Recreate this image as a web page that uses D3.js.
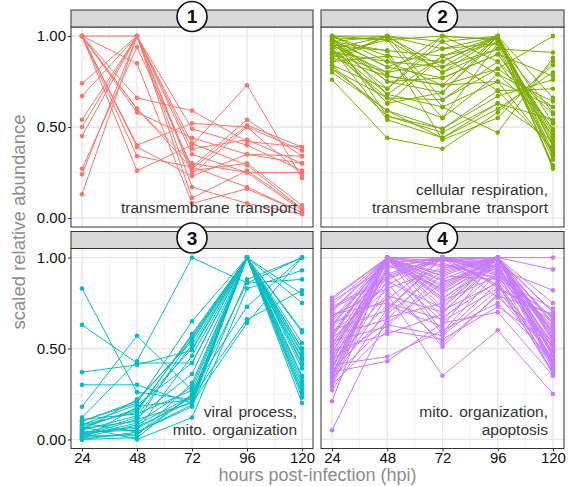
<!DOCTYPE html>
<html lang="en">

<head>
  <meta charset="UTF-8">
  <title>Cluster profiles</title>
  <script src="https://d3js.org/d3.v7.min.js"></script>
  <style>
    body { margin: 0; background: #fff; }
    text { font-family: "Liberation Sans", Arial, sans-serif; }
  </style>
</head>

<body>
  <div id="chart"></div>

  <script>

    // time points (hours post-infection)
    const hours = [24, 48, 72, 96, 120];
    const yTicks = [0, 0.5, 1];
    const yTickLabels = ['0.00', '0.50', '1.00'];

    const clusterIds = ['1', '2', '3', '4'];
    const clusterColors = ['#F8766D', '#7CAE00', '#00BFC4', '#C77CFF'];
    const clusterLabels = [
      ['transmembrane transport'],
      ['cellular respiration,', 'transmembrane transport'],
      ['viral process,', 'mito. organization'],
      ['mito. organization,', 'apoptosis']
    ];

    // scaled abundance per protein, values at 24/48/72/96/120 hpi
    const cluster1 = [
      [1.00, 0.60, 0.30, 0.25, 0.25],
      [1.00, 0.66, 0.59, 0.42, 0.39],
      [1.00, 0.58, 0.44, 0.35, 0.30],
      [1.00, 0.40, 0.52, 0.50, 0.37],
      [1.00, 0.34, 0.28, 0.54, 0.34],
      [1.00, 0.26, 0.40, 0.73, 0.22],
      [1.00, 0.85, 0.08, 0.16, 0.03],
      [0.74, 1.00, 0.11, 0.26, 0.05],
      [0.67, 1.00, 0.17, 0.08, 0.02],
      [0.54, 1.00, 0.26, 0.30, 0.07],
      [0.50, 1.00, 0.35, 0.25, 0.04],
      [0.45, 1.00, 0.49, 0.40, 0.26],
      [0.27, 0.94, 0.28, 0.17, 0.03],
      [0.24, 1.00, 0.38, 0.43, 0.30],
      [0.13, 1.00, 0.24, 0.50, 0.24],
      [1.00, 0.39, 0.23, 0.35, 0.34],
      [1.00, 1.00, 0.41, 0.29, 0.05],
      [1.00, 0.60, 0.27, 0.51, 0.39]
    ];

    const cluster2 = [
      [1.00, 1.00, 0.97, 1.00, 0.52],
      [0.99, 0.98, 1.00, 0.98, 0.46],
      [0.97, 1.00, 0.93, 1.00, 0.39],
      [0.95, 0.92, 0.89, 0.96, 0.58],
      [1.00, 0.89, 0.86, 1.00, 0.42],
      [0.93, 1.00, 0.80, 0.93, 0.35],
      [0.91, 0.86, 0.83, 1.00, 0.27],
      [0.98, 0.83, 0.77, 0.90, 0.49],
      [0.90, 0.80, 1.00, 0.86, 0.57],
      [0.88, 0.78, 0.73, 1.00, 0.66],
      [0.97, 0.75, 0.69, 0.98, 0.44],
      [0.86, 1.00, 0.65, 0.82, 0.61],
      [0.84, 0.71, 0.97, 0.79, 0.64],
      [0.99, 0.68, 0.61, 0.75, 0.37],
      [0.82, 0.66, 0.55, 0.96, 0.29],
      [0.95, 0.63, 0.89, 0.70, 0.71],
      [0.80, 0.59, 0.49, 0.67, 0.76],
      [1.00, 0.56, 0.47, 0.63, 0.54],
      [0.93, 0.54, 0.44, 0.60, 0.80],
      [0.76, 0.44, 0.38, 0.58, 0.84],
      [0.97, 0.92, 0.43, 0.55, 0.86],
      [0.90, 0.98, 0.61, 0.47, 0.88],
      [1.00, 0.86, 0.73, 0.82, 1.00],
      [0.88, 1.00, 0.83, 0.93, 0.91],
      [0.95, 0.80, 0.86, 1.00, 0.40],
      [0.99, 0.75, 0.77, 0.90, 0.78],
      [0.93, 0.63, 0.69, 1.00, 0.36],
      [0.86, 0.89, 0.55, 0.79, 0.52],
      [0.96, 0.71, 1.00, 0.98, 0.32],
      [0.91, 0.66, 0.65, 0.86, 0.45],
      [0.84, 0.56, 0.49, 0.70, 0.38],
      [1.00, 0.98, 0.80, 1.00, 0.34],
      [0.98, 0.83, 0.93, 0.96, 0.48],
      [0.82, 0.59, 0.44, 0.63, 0.42],
      [0.97, 0.78, 0.73, 0.75, 0.61],
      [0.93, 0.68, 0.89, 1.00, 0.28]
    ];

    const cluster3 = [
      [0.83, 0.26, 0.22, 1.00, 0.50],
      [0.63, 0.42, 0.42, 1.00, 0.35],
      [0.37, 0.41, 0.49, 1.00, 0.47],
      [0.30, 0.30, 0.20, 1.00, 0.42],
      [0.18, 0.57, 0.27, 1.00, 0.25],
      [0.12, 0.43, 1.00, 0.86, 0.88],
      [0.10, 0.20, 0.65, 1.00, 0.60],
      [0.08, 0.15, 0.58, 1.00, 0.53],
      [0.06, 0.10, 0.56, 1.00, 0.45],
      [0.05, 0.22, 0.54, 1.00, 0.39],
      [0.04, 0.05, 0.46, 1.00, 0.32],
      [0.03, 0.12, 0.36, 1.00, 0.28],
      [0.02, 0.02, 0.31, 1.00, 0.23],
      [0.01, 0.08, 0.24, 1.00, 0.20],
      [0.00, 0.18, 0.22, 1.00, 0.59],
      [0.09, 0.04, 0.18, 0.88, 1.00],
      [0.07, 0.00, 0.12, 0.83, 0.93],
      [0.11, 0.14, 0.27, 0.73, 1.00],
      [0.04, 0.06, 0.23, 0.66, 0.82],
      [0.02, 0.11, 0.20, 0.64, 1.00],
      [0.06, 0.17, 0.50, 1.00, 0.80],
      [0.01, 0.03, 0.24, 1.00, 0.75],
      [0.03, 0.07, 0.21, 1.00, 0.41],
      [0.00, 0.01, 0.25, 0.86, 1.00],
      [0.08, 0.19, 0.42, 1.00, 0.34],
      [0.05, 0.13, 0.52, 1.00, 0.48],
      [0.02, 0.09, 0.29, 1.00, 0.30],
      [0.10, 0.21, 0.55, 1.00, 0.50],
      [0.00, 0.04, 0.19, 1.00, 0.26],
      [0.07, 0.16, 0.57, 1.00, 0.44]
    ];

    const cluster4 = [
      [0.78, 1.00, 0.90, 1.00, 0.70],
      [0.76, 0.95, 1.00, 0.93, 0.62],
      [0.74, 1.00, 0.82, 1.00, 0.55],
      [0.72, 0.88, 1.00, 0.97, 0.66],
      [0.70, 1.00, 0.76, 0.90, 0.48],
      [0.68, 0.83, 0.94, 1.00, 0.59],
      [0.66, 1.00, 0.71, 0.86, 0.44],
      [0.64, 0.77, 1.00, 0.95, 0.52],
      [0.62, 1.00, 0.88, 1.00, 0.40],
      [0.61, 0.92, 0.65, 0.83, 0.68],
      [0.60, 0.71, 1.00, 1.00, 0.57],
      [0.58, 1.00, 0.59, 0.92, 0.36],
      [0.57, 0.66, 0.97, 0.88, 0.72],
      [0.56, 1.00, 0.85, 1.00, 0.50],
      [0.55, 0.86, 0.51, 0.80, 0.42],
      [0.54, 0.62, 0.91, 1.00, 0.63],
      [0.52, 1.00, 0.78, 0.96, 0.46],
      [0.50, 0.97, 1.00, 0.78, 0.54],
      [0.49, 0.58, 0.69, 1.00, 0.38],
      [0.48, 1.00, 0.96, 0.89, 0.60],
      [0.46, 0.80, 0.35, 0.60, 0.25],
      [0.45, 1.00, 0.73, 1.00, 0.47],
      [0.44, 0.90, 1.00, 0.84, 0.65],
      [0.43, 0.74, 0.62, 1.00, 0.41],
      [0.42, 1.00, 0.87, 0.94, 0.53],
      [0.41, 0.455, 0.60, 0.75, 0.44],
      [0.40, 0.94, 1.00, 0.99, 0.70],
      [0.39, 1.00, 0.67, 0.87, 0.39],
      [0.38, 0.69, 0.93, 1.00, 0.58],
      [0.37, 0.43, 0.64, 0.70, 0.35],
      [0.36, 1.00, 0.80, 1.00, 0.49],
      [0.35, 0.85, 1.00, 0.91, 0.61],
      [0.34, 0.63, 0.57, 0.82, 0.45],
      [0.33, 1.00, 0.95, 1.00, 0.56],
      [0.32, 0.79, 0.70, 0.97, 0.43],
      [0.31, 1.00, 1.00, 0.85, 0.37],
      [0.30, 0.60, 0.55, 0.73, 0.52],
      [0.29, 0.96, 0.83, 1.00, 0.64],
      [0.27, 0.72, 1.00, 0.95, 0.40],
      [0.21, 1.00, 0.90, 0.88, 0.51],
      [0.05, 0.67, 0.75, 1.00, 0.46],
      [0.77, 1.00, 1.00, 1.00, 1.00],
      [0.65, 0.98, 0.92, 1.00, 0.935],
      [0.53, 0.91, 1.00, 0.94, 0.82],
      [0.47, 1.00, 0.84, 1.00, 0.75],
      [0.59, 0.82, 0.53, 0.79, 0.69],
      [0.63, 1.00, 0.98, 1.00, 0.54],
      [0.69, 0.75, 0.66, 0.93, 0.48],
      [0.71, 1.00, 0.81, 0.97, 0.59],
      [0.51, 0.87, 0.72, 1.00, 0.42],
      [0.57, 1.00, 1.00, 0.90, 0.67],
      [0.39, 0.93, 0.58, 0.86, 0.36],
      [0.44, 0.64, 0.86, 1.00, 0.55],
      [0.73, 0.89, 0.99, 0.92, 0.62],
      [0.35, 1.00, 0.77, 1.00, 0.45]
    ];

    const clusters = [cluster1, cluster2, cluster3, cluster4];

    const width = 568;
    const height = 486;

    // panel boxes (2 x 2 facets)
    const cols = [{ left: 71, right: 313 }, { left: 321, right: 564 }];
    const rows = [{ stripTop: 10, top: 27, bottom: 227 }, { stripTop: 231.5, top: 248.5, bottom: 448.5 }];

    const svg = d3.select('#chart').append('svg')
      .attr('width', width)
      .attr('height', height);

    const line = (x, y) => d3.line()
      .x((d, i) => x(hours[i]))
      .y(d => y(d));

    clusters.forEach((data, k) => {
      const col = cols[k % 2];
      const row = rows[Math.floor(k / 2)];
      const color = clusterColors[k];

      const x = d3.scaleLinear().domain([19.2, 124.8]).range([col.left, col.right]);
      const y = d3.scaleLinear().domain([-0.05, 1.05]).range([row.bottom, row.top]);

      const g = svg.append('g');

      // grid
      const minorX = [36, 60, 84, 108];
      const minorY = [0.25, 0.75];
      g.selectAll('.gx-minor').data(minorX).enter().append('line')
        .attr('x1', d => x(d)).attr('x2', d => x(d))
        .attr('y1', row.top).attr('y2', row.bottom)
        .attr('stroke', '#f0f0f0').attr('stroke-width', 0.8);
      g.selectAll('.gy-minor').data(minorY).enter().append('line')
        .attr('y1', d => y(d)).attr('y2', d => y(d))
        .attr('x1', col.left).attr('x2', col.right)
        .attr('stroke', '#f0f0f0').attr('stroke-width', 0.8);
      g.selectAll('.gx').data(hours).enter().append('line')
        .attr('x1', d => x(d)).attr('x2', d => x(d))
        .attr('y1', row.top).attr('y2', row.bottom)
        .attr('stroke', '#e6e6e6').attr('stroke-width', 1.3);
      g.selectAll('.gy').data(yTicks).enter().append('line')
        .attr('y1', d => y(d)).attr('y2', d => y(d))
        .attr('x1', col.left).attr('x2', col.right)
        .attr('stroke', '#e6e6e6').attr('stroke-width', 1.3);

      // profiles
      g.selectAll('.profile').data(data).enter().append('path')
        .attr('d', line(x, y))
        .attr('fill', 'none')
        .attr('stroke', color)
        .attr('stroke-width', 1);

      data.forEach(vals => {
        g.selectAll(null).data(vals).enter().append('circle')
          .attr('cx', (d, i) => x(hours[i]))
          .attr('cy', d => y(d))
          .attr('r', 2.3)
          .attr('fill', color);
      });

      // annotation
      const lbl = clusterLabels[k];
      const baseY = row.bottom - 14;
      lbl.forEach((t, i) => {
        g.append('text')
          .attr('x', col.right - 16)
          .attr('y', baseY - (lbl.length - 1 - i) * 18)
          .attr('text-anchor', 'end')
          .attr('font-size', 15.5)
          .attr('fill', '#333')
          .attr('word-spacing', 2)
          .text(t);
      });

      // panel border
      g.append('rect')
        .attr('x', col.left).attr('y', row.top)
        .attr('width', col.right - col.left).attr('height', row.bottom - row.top)
        .attr('fill', 'none').attr('stroke', '#333').attr('stroke-width', 1);

      // strip
      g.append('rect')
        .attr('x', col.left).attr('y', row.stripTop)
        .attr('width', col.right - col.left).attr('height', row.top - row.stripTop)
        .attr('fill', '#d9d9d9').attr('stroke', '#333').attr('stroke-width', 1);
      const cx = (col.left + col.right) / 2;
      const cy = (row.stripTop + row.top) / 2 - 2;
      g.append('circle')
        .attr('cx', cx).attr('cy', cy).attr('r', 15)
        .attr('fill', '#fff').attr('stroke', '#111').attr('stroke-width', 1.6);
      g.append('text')
        .attr('x', cx).attr('y', cy + 6.5)
        .attr('text-anchor', 'middle')
        .attr('font-size', 19).attr('font-weight', 'bold')
        .attr('fill', '#111')
        .text(clusterIds[k]);

      // y axis on left column
      if (k % 2 === 0) {
        const yAxis = d3.axisLeft(y).tickValues(yTicks)
          .tickFormat((d, i) => yTickLabels[i]).tickSize(3).tickPadding(2);
        const ya = svg.append('g').attr('transform', `translate(${col.left},0)`).call(yAxis);
        ya.select('.domain').remove();
        ya.selectAll('line').attr('stroke', '#333');
        ya.selectAll('text').attr('font-size', 15).attr('fill', '#111')
          .attr('font-family', '"Liberation Sans", Arial, sans-serif');
      }
      // x axis on bottom row
      if (k >= 2) {
        const xAxis = d3.axisBottom(x).tickValues(hours).tickSize(3).tickPadding(1);
        const xa = svg.append('g').attr('transform', `translate(0,${row.bottom})`).call(xAxis);
        xa.select('.domain').remove();
        xa.selectAll('line').attr('stroke', '#333');
        xa.selectAll('text').attr('font-size', 15).attr('fill', '#111')
          .attr('font-family', '"Liberation Sans", Arial, sans-serif');
      }
    });

    // axis titles
    svg.append('text')
      .attr('x', (cols[0].left + cols[1].right) / 2)
      .attr('y', 481)
      .attr('text-anchor', 'middle')
      .attr('font-size', 18)
      .attr('fill', '#8c8c8c')
      .text('hours post-infection (hpi)');

    svg.append('text')
      .attr('transform', 'translate(25,222) rotate(-90)')
      .attr('text-anchor', 'middle')
      .attr('font-size', 18.5)
      .attr('fill', '#8c8c8c')
      .text('scaled relative abundance');

  </script>
</body>

</html>
